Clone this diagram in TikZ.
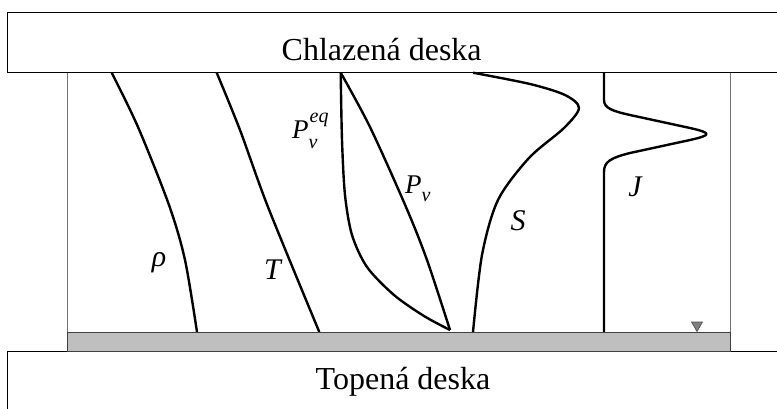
\documentclass[tikz,border=0pt]{standalone}
\usepackage{fontspec}
\setmainfont{Liberation Serif}

\newcommand{\idxfont}{\fontsize{20}{24}\selectfont}

\begin{document}
\begin{tikzpicture}[x=1pt, y=-1pt,
    profile/.style={line width=2.4pt, line join=round},
    plate/.style={line width=1.3pt},
    wall_line/.style={line width=0.9pt, draw=black!55},
    heater_bar/.style={fill=black!25, draw=black!75, line width=1pt},
    plate_text/.style={font=\fontsize{32}{38}\selectfont, inner sep=0pt, anchor=base},
    var_label/.style={font=\fontsize{30}{36}\selectfont\itshape, inner sep=0pt, anchor=base},
    p_label/.style={font=\fontsize{27}{32}\selectfont\itshape, inner sep=0pt, anchor=base west}
]
\useasboundingbox (0,0) rectangle (777,408);
\clip (0,0) rectangle (777,408);

% --- Desky ---
\draw[plate] (7.3,12.3) rectangle (800,72.7);
\node[plate_text] (cold) at (381.7,60) {Chlazená deska};
\draw[plate] (7.3,351.7) rectangle (800,430);
\node[plate_text] (hot) at (403,389) {Topená deska};

% --- Stěny ---
\draw[wall_line] (67.7,72.7) -- (67.7,332);
\draw[wall_line] (730.7,72.7) -- (730.7,332);

% --- Profily ---
\draw[profile] plot[smooth] coordinates {(111.7,72.7) (138,127) (169,205) (185,260) (197,332)};
\draw[profile] plot[smooth] coordinates {(216.7,72.7) (240,130) (268,207) (319.3,332)};
\draw[profile] plot[smooth] coordinates {(340.7,72.7) (342,140) (345,195) (352,235) (367,267) (394,295) (424,316) (450,330)};
\draw[profile] plot[smooth] coordinates {(340.7,72.7) (370,127) (406,207) (427,260) (450,330)};
\draw[profile] plot[smooth] coordinates {(473,72.7) (530,84) (565,95) (579,108) (564,128) (529,158) (498,200) (482,255) (473,332)};
\draw[profile] (604,72.7) -- (604,100) .. controls (604,108) and (612,111) .. (630,115)
    -- (690,128) .. controls (712,133) and (712,135) .. (690,140)
    -- (630,153) .. controls (610,158) and (604,162) .. (604,172) -- (604,332);

% --- Popisky ---
\node[var_label] (rho) at (159,266.7) {ρ};
\node[var_label] (temp) at (272.5,279) {T};
\node[p_label] (pveq) at (292,138)
    {P\rlap{\raisebox{-10pt}{\idxfont v}}\kern1pt\raisebox{16pt}{\idxfont eq}};
\node[p_label] (pv) at (405,193) {P\raisebox{-8pt}{\idxfont v}};
\node[var_label] (sat) at (518,230.7) {S};
\node[var_label] (flux) at (635,196.7) {J};

% --- Ohřívaná vrstva ---
\draw[heater_bar] (67.7,332.3) rectangle (730.7,351.7);
\draw[fill=black!50, draw=black!70, line width=0.6pt] (691.5,322) -- (702.5,322) -- (697,331.5) -- cycle;

\end{tikzpicture}
\end{document}
